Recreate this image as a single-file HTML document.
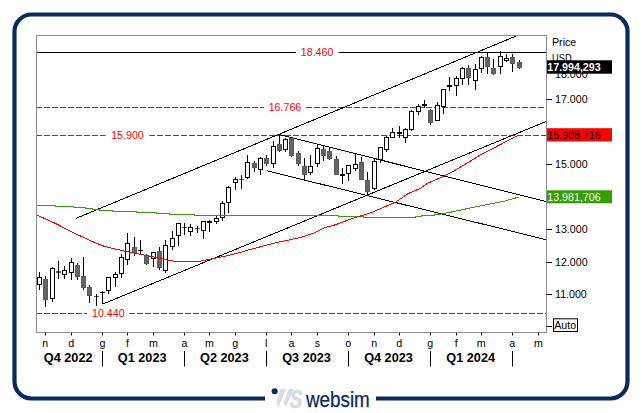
<!DOCTYPE html>
<html><head><meta charset="utf-8"><title>chart</title>
<style>html,body{margin:0;padding:0;background:#fff}body{width:642px;height:413px;position:relative;overflow:hidden;font-family:"Liberation Sans",sans-serif}svg text{font-family:"Liberation Sans",sans-serif}</style></head><body>
<svg width="642" height="413" viewBox="0 0 642 413" style="position:absolute;left:0;top:0">
<rect width="642" height="413" fill="#fff"/>
<rect x="14.5" y="14.5" width="613" height="384" rx="17" ry="17" fill="none" stroke="#07295d" stroke-width="4.2"/>
<rect x="265" y="392" width="111" height="12" fill="#fff"/>
<rect x="36.5" y="35.5" width="510.0" height="297.0" fill="#fff" stroke="#8a8a9a" stroke-width="1"/>
<clipPath id="cp"><rect x="37.0" y="36.0" width="509.0" height="296.0"/></clipPath>
<g clip-path="url(#cp)">
<line x1="36.5" y1="52.5" x2="546.5" y2="52.5" stroke="#000" stroke-width="1"/>
<line x1="36" y1="107.5" x2="264" y2="107.5" stroke="#f00" stroke-width="1" shape-rendering="crispEdges" stroke-dasharray="6 2"/>
<line x1="306" y1="107.5" x2="546.5" y2="107.5" stroke="#f00" stroke-width="1" shape-rendering="crispEdges" stroke-dasharray="6 2"/>
<line x1="36" y1="135.5" x2="106" y2="135.5" stroke="#f00" stroke-width="1" shape-rendering="crispEdges" stroke-dasharray="6 2"/>
<line x1="149" y1="135.5" x2="546.5" y2="135.5" stroke="#f00" stroke-width="1" shape-rendering="crispEdges" stroke-dasharray="6 2"/>
<line x1="36" y1="313.5" x2="87.4" y2="313.5" stroke="#f00" stroke-width="1" shape-rendering="crispEdges" stroke-dasharray="6 2"/>
<line x1="129" y1="313.5" x2="546.5" y2="313.5" stroke="#f00" stroke-width="1" shape-rendering="crispEdges" stroke-dasharray="6 2"/>
<line x1="75.9" y1="218.4" x2="517.7" y2="35.4" stroke="#000" stroke-width="1" shape-rendering="crispEdges"/>
<line x1="102.5" y1="304.2" x2="546.5" y2="121.3" stroke="#000" stroke-width="1" shape-rendering="crispEdges"/>
<line x1="279" y1="134.5" x2="546.5" y2="201.7" stroke="#000" stroke-width="1" shape-rendering="crispEdges"/>
<line x1="267" y1="170.8" x2="546.5" y2="239.8" stroke="#000" stroke-width="1" shape-rendering="crispEdges"/>
<rect x="296" y="46.5" width="42.5" height="12" fill="#fff"/><text x="300.8" y="56.1" font-size="10.67" fill="#f00">18.460</text>
<rect x="264.2" y="101.3" width="41.80000000000001" height="12" fill="#fff"/><text x="268.7" y="110.89999999999999" font-size="10.67" fill="#f00">16.766</text>
<rect x="105.6" y="129.5" width="43.599999999999994" height="12" fill="#fff"/><text x="111.2" y="139.1" font-size="10.67" fill="#f00">15.900</text>
<rect x="87.4" y="307.3" width="42.099999999999994" height="12" fill="#fff"/><text x="92" y="316.90000000000003" font-size="10.67" fill="#f00">10.440</text>
<g shape-rendering="crispEdges">
<rect x="39" y="272" width="1" height="18" fill="#000"/>
<rect x="37" y="277" width="5" height="8" fill="#000"/>
<rect x="38" y="278" width="3" height="6" fill="#fff"/>
<rect x="45" y="276" width="1" height="31" fill="#000"/>
<rect x="43" y="279" width="5" height="21" fill="#5a5a5a"/>
<rect x="44" y="280" width="3" height="19" fill="#656565"/>
<rect x="52" y="267" width="1" height="35" fill="#000"/>
<rect x="50" y="268" width="5" height="31" fill="#000"/>
<rect x="51" y="269" width="3" height="29" fill="#fff"/>
<rect x="58" y="261" width="1" height="18" fill="#000"/>
<rect x="56" y="271.4" width="5" height="1.4" fill="#5e5e5e"/>
<rect x="58" y="261" width="1" height="18" fill="#000"/>
<rect x="64" y="266" width="1" height="13" fill="#000"/>
<rect x="62" y="270" width="5" height="5" fill="#000"/>
<rect x="63" y="271" width="3" height="3" fill="#fff"/>
<rect x="71" y="258" width="1" height="22" fill="#000"/>
<rect x="69" y="262" width="5" height="11" fill="#000"/>
<rect x="70" y="263" width="3" height="9" fill="#fff"/>
<rect x="77" y="263" width="1" height="17" fill="#000"/>
<rect x="75" y="265" width="5" height="12" fill="#5a5a5a"/>
<rect x="76" y="266" width="3" height="10" fill="#656565"/>
<rect x="83" y="257" width="1" height="33" fill="#000"/>
<rect x="81" y="276" width="5" height="12" fill="#5a5a5a"/>
<rect x="82" y="277" width="3" height="10" fill="#656565"/>
<rect x="89" y="285" width="1" height="18" fill="#000"/>
<rect x="87" y="287" width="5" height="9" fill="#5a5a5a"/>
<rect x="88" y="288" width="3" height="7" fill="#656565"/>
<rect x="96" y="294" width="1" height="12" fill="#000"/>
<rect x="94" y="295.5" width="5" height="1.4" fill="#5e5e5e"/>
<rect x="96" y="294" width="1" height="12" fill="#000"/>
<rect x="102" y="291" width="1" height="13" fill="#000"/>
<rect x="100" y="292.2" width="5" height="1.2" fill="#000"/>
<rect x="102" y="291" width="1" height="13" fill="#000"/>
<rect x="108" y="277" width="1" height="17" fill="#000"/>
<rect x="106" y="277" width="5" height="14" fill="#000"/>
<rect x="107" y="278" width="3" height="12" fill="#fff"/>
<rect x="115" y="272" width="1" height="15" fill="#000"/>
<rect x="113" y="274" width="5" height="4" fill="#000"/>
<rect x="114" y="275" width="3" height="2" fill="#fff"/>
<rect x="121" y="254" width="1" height="24" fill="#000"/>
<rect x="119" y="257" width="5" height="17" fill="#000"/>
<rect x="120" y="258" width="3" height="15" fill="#fff"/>
<rect x="127" y="233" width="1" height="32" fill="#000"/>
<rect x="125" y="243" width="5" height="17" fill="#000"/>
<rect x="126" y="244" width="3" height="15" fill="#fff"/>
<rect x="134" y="237" width="1" height="19" fill="#000"/>
<rect x="132" y="247" width="5" height="6" fill="#5a5a5a"/>
<rect x="133" y="248" width="3" height="4" fill="#656565"/>
<rect x="140" y="240" width="1" height="14" fill="#000"/>
<rect x="138" y="249.9" width="5" height="1.2" fill="#000"/>
<rect x="140" y="240" width="1" height="14" fill="#000"/>
<rect x="146" y="254" width="1" height="11" fill="#000"/>
<rect x="144" y="255" width="5" height="9" fill="#5a5a5a"/>
<rect x="145" y="256" width="3" height="7" fill="#656565"/>
<rect x="153" y="252" width="1" height="15" fill="#000"/>
<rect x="151" y="252" width="5" height="7" fill="#000"/>
<rect x="152" y="253" width="3" height="5" fill="#fff"/>
<rect x="159" y="247" width="1" height="23" fill="#000"/>
<rect x="157" y="251" width="5" height="17" fill="#5a5a5a"/>
<rect x="158" y="252" width="3" height="15" fill="#656565"/>
<rect x="165" y="240" width="1" height="33" fill="#000"/>
<rect x="163" y="245" width="5" height="26" fill="#000"/>
<rect x="164" y="246" width="3" height="24" fill="#fff"/>
<rect x="172" y="231" width="1" height="19" fill="#000"/>
<rect x="170" y="238" width="5" height="9" fill="#000"/>
<rect x="171" y="239" width="3" height="7" fill="#fff"/>
<rect x="178" y="223" width="1" height="23" fill="#000"/>
<rect x="176" y="223" width="5" height="13" fill="#000"/>
<rect x="177" y="224" width="3" height="11" fill="#fff"/>
<rect x="184" y="223" width="1" height="12" fill="#000"/>
<rect x="182" y="226.7" width="5" height="1.4" fill="#5e5e5e"/>
<rect x="184" y="223" width="1" height="12" fill="#000"/>
<rect x="190" y="224" width="1" height="12" fill="#000"/>
<rect x="188" y="227" width="5" height="5" fill="#000"/>
<rect x="189" y="228" width="3" height="3" fill="#fff"/>
<rect x="197" y="226" width="1" height="7" fill="#000"/>
<rect x="195" y="227.8" width="5" height="1.4" fill="#5e5e5e"/>
<rect x="197" y="226" width="1" height="7" fill="#000"/>
<rect x="203" y="221" width="1" height="18" fill="#000"/>
<rect x="201" y="221" width="5" height="10" fill="#000"/>
<rect x="202" y="222" width="3" height="8" fill="#fff"/>
<rect x="209" y="220" width="1" height="12" fill="#000"/>
<rect x="207" y="221.0" width="5" height="1.9" fill="#000"/>
<rect x="209" y="220" width="1" height="12" fill="#000"/>
<rect x="216" y="216" width="1" height="8" fill="#000"/>
<rect x="214" y="218" width="5" height="4" fill="#000"/>
<rect x="215" y="219" width="3" height="2" fill="#fff"/>
<rect x="222" y="201" width="1" height="20" fill="#000"/>
<rect x="220" y="203" width="5" height="15" fill="#000"/>
<rect x="221" y="204" width="3" height="13" fill="#fff"/>
<rect x="228" y="186" width="1" height="27" fill="#000"/>
<rect x="226" y="187" width="5" height="16" fill="#000"/>
<rect x="227" y="188" width="3" height="14" fill="#fff"/>
<rect x="235" y="177" width="1" height="13" fill="#000"/>
<rect x="233" y="179" width="5" height="4" fill="#000"/>
<rect x="234" y="180" width="3" height="2" fill="#fff"/>
<rect x="241" y="175" width="1" height="14" fill="#000"/>
<rect x="239" y="178.8" width="5" height="1.4" fill="#5e5e5e"/>
<rect x="241" y="175" width="1" height="14" fill="#000"/>
<rect x="247" y="155" width="1" height="24" fill="#000"/>
<rect x="245" y="162" width="5" height="16" fill="#000"/>
<rect x="246" y="163" width="3" height="14" fill="#fff"/>
<rect x="254" y="161" width="1" height="11" fill="#000"/>
<rect x="252" y="163" width="5" height="5" fill="#5a5a5a"/>
<rect x="253" y="164" width="3" height="3" fill="#656565"/>
<rect x="260" y="157" width="1" height="18" fill="#000"/>
<rect x="258" y="158" width="5" height="12" fill="#000"/>
<rect x="259" y="159" width="3" height="10" fill="#fff"/>
<rect x="266" y="155" width="1" height="11" fill="#000"/>
<rect x="264" y="158" width="5" height="6" fill="#5a5a5a"/>
<rect x="265" y="159" width="3" height="4" fill="#656565"/>
<rect x="273" y="141" width="1" height="27" fill="#000"/>
<rect x="271" y="146" width="5" height="18" fill="#000"/>
<rect x="272" y="147" width="3" height="16" fill="#fff"/>
<rect x="279" y="134" width="1" height="18" fill="#000"/>
<rect x="277" y="144" width="5" height="7" fill="#5a5a5a"/>
<rect x="278" y="145" width="3" height="5" fill="#656565"/>
<rect x="285" y="138" width="1" height="14" fill="#000"/>
<rect x="283" y="139" width="5" height="11" fill="#000"/>
<rect x="284" y="140" width="3" height="9" fill="#fff"/>
<rect x="291" y="137" width="1" height="20" fill="#000"/>
<rect x="289" y="138" width="5" height="18" fill="#5a5a5a"/>
<rect x="290" y="139" width="3" height="16" fill="#656565"/>
<rect x="298" y="151" width="1" height="15" fill="#000"/>
<rect x="296" y="153" width="5" height="11" fill="#5a5a5a"/>
<rect x="297" y="154" width="3" height="9" fill="#656565"/>
<rect x="304" y="158" width="1" height="22" fill="#000"/>
<rect x="302" y="166" width="5" height="9" fill="#5a5a5a"/>
<rect x="303" y="167" width="3" height="7" fill="#656565"/>
<rect x="310" y="155" width="1" height="20" fill="#000"/>
<rect x="308" y="166" width="5" height="7" fill="#000"/>
<rect x="309" y="167" width="3" height="5" fill="#fff"/>
<rect x="317" y="145" width="1" height="22" fill="#000"/>
<rect x="315" y="148" width="5" height="16" fill="#000"/>
<rect x="316" y="149" width="3" height="14" fill="#fff"/>
<rect x="323" y="146" width="1" height="15" fill="#000"/>
<rect x="321" y="149" width="5" height="7" fill="#5a5a5a"/>
<rect x="322" y="150" width="3" height="5" fill="#656565"/>
<rect x="329" y="147" width="1" height="13" fill="#000"/>
<rect x="327" y="151" width="5" height="8" fill="#5a5a5a"/>
<rect x="328" y="152" width="3" height="6" fill="#656565"/>
<rect x="336" y="156" width="1" height="19" fill="#000"/>
<rect x="334" y="159" width="5" height="16" fill="#5a5a5a"/>
<rect x="335" y="160" width="3" height="14" fill="#656565"/>
<rect x="342" y="168" width="1" height="16" fill="#000"/>
<rect x="340" y="174.2" width="5" height="1.9" fill="#000"/>
<rect x="342" y="168" width="1" height="16" fill="#000"/>
<rect x="348" y="165" width="1" height="16" fill="#000"/>
<rect x="346" y="165" width="5" height="9" fill="#000"/>
<rect x="347" y="166" width="3" height="7" fill="#fff"/>
<rect x="355" y="154" width="1" height="17" fill="#000"/>
<rect x="353" y="164" width="5" height="5" fill="#000"/>
<rect x="354" y="165" width="3" height="3" fill="#fff"/>
<rect x="361" y="157" width="1" height="23" fill="#000"/>
<rect x="359" y="162" width="5" height="18" fill="#5a5a5a"/>
<rect x="360" y="163" width="3" height="16" fill="#656565"/>
<rect x="367" y="172" width="1" height="23" fill="#000"/>
<rect x="365" y="180" width="5" height="12" fill="#5a5a5a"/>
<rect x="366" y="181" width="3" height="10" fill="#656565"/>
<rect x="374" y="159" width="1" height="31" fill="#000"/>
<rect x="372" y="161" width="5" height="28" fill="#000"/>
<rect x="373" y="162" width="3" height="26" fill="#fff"/>
<rect x="380" y="147" width="1" height="16" fill="#000"/>
<rect x="378" y="147" width="5" height="13" fill="#000"/>
<rect x="379" y="148" width="3" height="11" fill="#fff"/>
<rect x="386" y="136" width="1" height="16" fill="#000"/>
<rect x="384" y="137" width="5" height="13" fill="#000"/>
<rect x="385" y="138" width="3" height="11" fill="#fff"/>
<rect x="392" y="128" width="1" height="10" fill="#000"/>
<rect x="390" y="132" width="5" height="6" fill="#000"/>
<rect x="391" y="133" width="3" height="4" fill="#fff"/>
<rect x="399" y="126" width="1" height="12" fill="#000"/>
<rect x="397" y="131.8" width="5" height="1.9" fill="#000"/>
<rect x="399" y="126" width="1" height="12" fill="#000"/>
<rect x="405" y="128" width="1" height="15" fill="#000"/>
<rect x="403" y="129" width="5" height="9" fill="#000"/>
<rect x="404" y="130" width="3" height="7" fill="#fff"/>
<rect x="411" y="110" width="1" height="21" fill="#000"/>
<rect x="409" y="111" width="5" height="19" fill="#000"/>
<rect x="410" y="112" width="3" height="17" fill="#fff"/>
<rect x="418" y="104" width="1" height="11" fill="#000"/>
<rect x="416" y="106" width="5" height="6" fill="#000"/>
<rect x="417" y="107" width="3" height="4" fill="#fff"/>
<rect x="424" y="100" width="1" height="8" fill="#000"/>
<rect x="422" y="104.2" width="5" height="1.9" fill="#000"/>
<rect x="424" y="100" width="1" height="8" fill="#000"/>
<rect x="430" y="109" width="1" height="16" fill="#000"/>
<rect x="428" y="110" width="5" height="13" fill="#5a5a5a"/>
<rect x="429" y="111" width="3" height="11" fill="#656565"/>
<rect x="437" y="102" width="1" height="19" fill="#000"/>
<rect x="435" y="105" width="5" height="16" fill="#000"/>
<rect x="436" y="106" width="3" height="14" fill="#fff"/>
<rect x="443" y="89" width="1" height="25" fill="#000"/>
<rect x="441" y="89" width="5" height="18" fill="#000"/>
<rect x="442" y="90" width="3" height="16" fill="#fff"/>
<rect x="449" y="77" width="1" height="14" fill="#000"/>
<rect x="447" y="85.0" width="5" height="1.9" fill="#000"/>
<rect x="449" y="77" width="1" height="14" fill="#000"/>
<rect x="456" y="76" width="1" height="20" fill="#000"/>
<rect x="454" y="78" width="5" height="8" fill="#000"/>
<rect x="455" y="79" width="3" height="6" fill="#fff"/>
<rect x="462" y="67" width="1" height="18" fill="#000"/>
<rect x="460" y="68" width="5" height="11" fill="#000"/>
<rect x="461" y="69" width="3" height="9" fill="#fff"/>
<rect x="468" y="65" width="1" height="20" fill="#000"/>
<rect x="466" y="68" width="5" height="10" fill="#5a5a5a"/>
<rect x="467" y="69" width="3" height="8" fill="#656565"/>
<rect x="475" y="64" width="1" height="26" fill="#000"/>
<rect x="473" y="69" width="5" height="12" fill="#000"/>
<rect x="474" y="70" width="3" height="10" fill="#fff"/>
<rect x="481" y="56" width="1" height="17" fill="#000"/>
<rect x="479" y="57" width="5" height="12" fill="#000"/>
<rect x="480" y="58" width="3" height="10" fill="#fff"/>
<rect x="487" y="53" width="1" height="21" fill="#000"/>
<rect x="485" y="57" width="5" height="10" fill="#5a5a5a"/>
<rect x="486" y="58" width="3" height="8" fill="#656565"/>
<rect x="493" y="59" width="1" height="16" fill="#000"/>
<rect x="491" y="68" width="5" height="6" fill="#5a5a5a"/>
<rect x="492" y="69" width="3" height="4" fill="#656565"/>
<rect x="500" y="51" width="1" height="23" fill="#000"/>
<rect x="498" y="56" width="5" height="11" fill="#000"/>
<rect x="499" y="57" width="3" height="9" fill="#fff"/>
<rect x="506" y="54" width="1" height="8" fill="#000"/>
<rect x="504" y="58" width="5" height="3" fill="#000"/>
<rect x="505" y="59" width="3" height="1" fill="#fff"/>
<rect x="512" y="54" width="1" height="18" fill="#000"/>
<rect x="510" y="57" width="5" height="7" fill="#5a5a5a"/>
<rect x="511" y="58" width="3" height="5" fill="#656565"/>
<rect x="519" y="60" width="1" height="9" fill="#000"/>
<rect x="517" y="62" width="5" height="6" fill="#5a5a5a"/>
<rect x="518" y="63" width="3" height="4" fill="#656565"/>
</g>
<polyline fill="none" shape-rendering="crispEdges" stroke="#3a9a10" stroke-width="1" points="36.5,205.5 55.0,205.5 55.0,206.5 73.7,206.5 73.7,207.5 85.9,207.5 85.9,208.5 92.9,208.5 92.9,209.5 99.0,209.5 99.0,210.5 112.0,210.5 112.0,211.5 136.8,211.5 136.8,212.5 156.1,212.5 156.1,213.5 169.2,213.5 169.2,214.5 194.1,214.5 194.1,215.5 338.7,215.5 338.7,216.5 363.9,216.5 363.9,217.5 415.3,217.5 415.3,216.5 421.0,216.5 421.0,215.5 434.0,215.5 434.0,214.5 440.0,214.2 451.5,212.0 468.4,208.4 492.6,203.5 504.7,201.0 519.5,196.9"/>
<polyline fill="none" shape-rendering="crispEdges" stroke="#f00" stroke-width="1" points="36.5,214.8 55.2,223.3 74.6,233.3 94.0,242.2 104.0,246.2 115.3,249.1 133.0,252.8 152.4,256.7 168.0,260.2 176.0,261.5 184.0,261.7 200.9,261.0 213.4,258.5 225.8,256.0 240.8,252.3 250.8,249.3 275.7,242.8 300.6,237.4 315.6,232.4 325.5,227.4 336.0,224.6 350.9,219.0 370.9,212.8 395.8,202.0 408.2,193.6 420.0,188.5 427.3,183.4 444.2,176.1 456.3,169.6 468.4,162.3 482.9,153.4 492.6,148.6 504.7,142.3 519.2,135.0"/>
</g>
<g font-size="10.67" fill="#000">
<text x="552" y="45.8">Price</text>
<text x="552" y="61.8" textLength="19.6" lengthAdjust="spacingAndGlyphs">USD</text>
<text x="555" y="77.7">18.000</text>
<line x1="546.5" y1="99.5" x2="552" y2="99.5" stroke="#000" stroke-width="1"/>
<text x="555" y="102.8">17.000</text>
<line x1="546.5" y1="164.5" x2="552" y2="164.5" stroke="#000" stroke-width="1"/>
<text x="555" y="167.8">15.000</text>
<line x1="546.5" y1="229.5" x2="552" y2="229.5" stroke="#000" stroke-width="1"/>
<text x="555" y="232.8">13.000</text>
<line x1="546.5" y1="262.5" x2="552" y2="262.5" stroke="#000" stroke-width="1"/>
<text x="555" y="265.8">12.000</text>
<line x1="546.5" y1="294.5" x2="552" y2="294.5" stroke="#000" stroke-width="1"/>
<text x="555" y="297.8">11.000</text>
<line x1="546.5" y1="326.5" x2="552" y2="326.5" stroke="#000" stroke-width="1"/>
</g>
<rect x="547" y="60.3" width="65" height="13.4" fill="#000"/>
<text x="547.3" y="71" font-size="10.67" font-weight="bold" fill="#fff">17.994,293</text>
<rect x="547" y="128.2" width="65" height="13.3" fill="#f00"/>
<text x="547.3" y="138.8" font-size="10.67" fill="#000">15.908,716</text>
<rect x="547" y="190.3" width="65" height="13" fill="#33a000"/>
<text x="547.3" y="200.7" font-size="10.67" fill="#fff">13.981,706</text>
<rect x="553.5" y="318.8" width="24" height="12.7" fill="#fff" stroke="#000" stroke-width="1"/>
<text x="554.2" y="329.3" font-size="10.67" fill="#000">Auto</text>
<g font-size="10.67" fill="#000" text-anchor="middle">
<line x1="45.5" y1="333" x2="45.5" y2="335.5" stroke="#000" stroke-width="1"/>
<text x="45.2" y="346.7">n</text>
<line x1="71.5" y1="333" x2="71.5" y2="335.5" stroke="#000" stroke-width="1"/>
<text x="71.1" y="346.7">d</text>
<line x1="102.5" y1="333" x2="102.5" y2="335.5" stroke="#000" stroke-width="1"/>
<text x="102.4" y="346.7">g</text>
<line x1="127.5" y1="333" x2="127.5" y2="335.5" stroke="#000" stroke-width="1"/>
<text x="127.6" y="346.7">f</text>
<line x1="153.5" y1="333" x2="153.5" y2="335.5" stroke="#000" stroke-width="1"/>
<text x="153.5" y="346.7">m</text>
<line x1="184.5" y1="333" x2="184.5" y2="335.5" stroke="#000" stroke-width="1"/>
<text x="184.4" y="346.7">a</text>
<line x1="209.5" y1="333" x2="209.5" y2="335.5" stroke="#000" stroke-width="1"/>
<text x="209.5" y="346.7">m</text>
<line x1="235.5" y1="333" x2="235.5" y2="335.5" stroke="#000" stroke-width="1"/>
<text x="235.2" y="346.7">g</text>
<line x1="266.5" y1="333" x2="266.5" y2="335.5" stroke="#000" stroke-width="1"/>
<text x="266.2" y="346.7">l</text>
<line x1="291.5" y1="333" x2="291.5" y2="335.5" stroke="#000" stroke-width="1"/>
<text x="291.4" y="346.7">a</text>
<line x1="317.5" y1="333" x2="317.5" y2="335.5" stroke="#000" stroke-width="1"/>
<text x="317.4" y="346.7">s</text>
<line x1="348.5" y1="333" x2="348.5" y2="335.5" stroke="#000" stroke-width="1"/>
<text x="348.2" y="346.7">o</text>
<line x1="374.5" y1="333" x2="374.5" y2="335.5" stroke="#000" stroke-width="1"/>
<text x="374.2" y="346.7">n</text>
<line x1="399.5" y1="333" x2="399.5" y2="335.5" stroke="#000" stroke-width="1"/>
<text x="399.3" y="346.7">d</text>
<line x1="430.5" y1="333" x2="430.5" y2="335.5" stroke="#000" stroke-width="1"/>
<text x="430.1" y="346.7">g</text>
<line x1="456.5" y1="333" x2="456.5" y2="335.5" stroke="#000" stroke-width="1"/>
<text x="456.3" y="346.7">f</text>
<line x1="481.5" y1="333" x2="481.5" y2="335.5" stroke="#000" stroke-width="1"/>
<text x="481.3" y="346.7">m</text>
<line x1="512.5" y1="333" x2="512.5" y2="335.5" stroke="#000" stroke-width="1"/>
<text x="512.3" y="346.7">a</text>
<line x1="538.5" y1="333" x2="538.5" y2="335.5" stroke="#000" stroke-width="1"/>
<text x="538.5" y="346.7">m</text>
</g>
<line x1="102.5" y1="351" x2="102.5" y2="366.5" stroke="#000" stroke-width="1"/>
<line x1="184.5" y1="351" x2="184.5" y2="366.5" stroke="#000" stroke-width="1"/>
<line x1="266.5" y1="351" x2="266.5" y2="366.5" stroke="#000" stroke-width="1"/>
<line x1="348.5" y1="351" x2="348.5" y2="366.5" stroke="#000" stroke-width="1"/>
<line x1="430.5" y1="351" x2="430.5" y2="366.5" stroke="#000" stroke-width="1"/>
<line x1="512.5" y1="351" x2="512.5" y2="366.5" stroke="#000" stroke-width="1"/>
<g font-size="12.7" font-weight="bold" fill="#000" text-anchor="middle">
<text x="68.2" y="362.1">Q4 2022</text>
<text x="142.2" y="362.1">Q1 2023</text>
<text x="224.4" y="362.1">Q2 2023</text>
<text x="306.6" y="362.1">Q3 2023</text>
<text x="388.5" y="362.1">Q4 2023</text>
<text x="470.7" y="362.1">Q1 2024</text>
</g>
<circle cx="274.65" cy="391.3" r="3.05" fill="#07295d"/>
<polygon points="280.7,389.1 286.2,389.1 278.4,407.2 276.1,402.6" fill="#d4dde9"/>
<polygon points="289.1,389.1 293.6,389.1 285.9,407.0 283.6,402.5" fill="#d4dde9"/>
<text x="289.6" y="407.6" font-size="25.5" font-weight="bold" font-style="italic" fill="#d4dde9" stroke="#d4dde9" stroke-width="0.6" textLength="12.9" lengthAdjust="spacingAndGlyphs">S</text>
<text x="306.0" y="407" font-size="21.5" fill="#07295d" stroke="#07295d" stroke-width="0.25" textLength="63.8" lengthAdjust="spacingAndGlyphs">websim</text>
</svg>
</body></html>
